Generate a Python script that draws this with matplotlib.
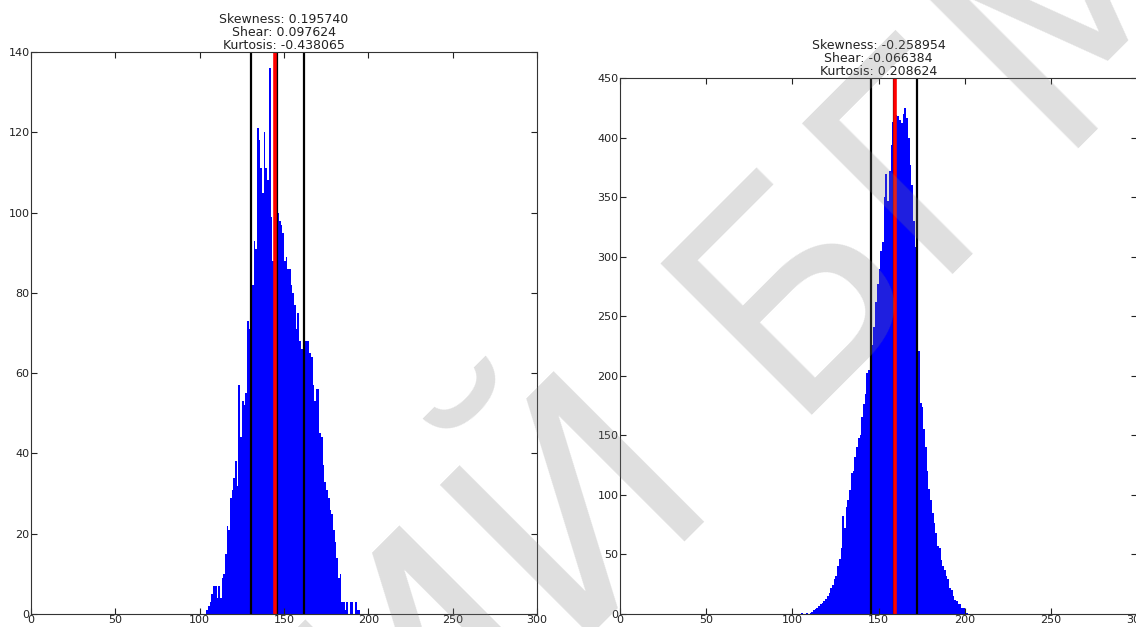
import matplotlib
matplotlib.use('Agg')
import matplotlib.pyplot as plt
import numpy as np

# left histogram: bin start and counts (bin width 1)
left_start = 103
left_counts = [0, 1, 2, 3, 5, 7, 7, 4, 7, 4,
               9, 10, 15, 22, 21, 29, 31, 34, 38, 32,
               57, 44, 53, 52, 55, 73, 71, 82, 82, 93,
               91, 121, 118, 111, 105, 120, 111, 108, 136, 99,
               88, 92, 113, 100, 98, 97, 95, 88, 89, 86,
               86, 82, 80, 77, 71, 75, 68, 66, 72, 68,
               68, 68, 65, 64, 57, 53, 56, 56, 45, 44,
               37, 33, 31, 29, 26, 25, 21, 18, 14, 9,
               10, 3, 3, 1, 3, 0, 3, 3, 0, 3,
               1, 1]
left_stats = "Skewness: 0.195740\nShear: 0.097624\nKurtosis: -0.438065"
left_mean = 144.9
left_median = 145.8
left_band = [130.2, 161.6]

# right histogram
right_start = 105
right_counts = [1, 0, 0, 1, 0, 1, 2, 3, 4, 5,
                7, 8, 9, 11, 13, 15, 18, 22, 24, 29,
                32, 40, 46, 55, 82, 72, 90, 96, 104, 118,
                120, 132, 140, 148, 150, 165, 176, 185, 202, 205,
                224, 226, 241, 262, 277, 290, 305, 312, 350, 369,
                347, 372, 394, 413, 435, 419, 418, 415, 412, 420,
                425, 416, 400, 377, 360, 330, 308, 305, 221, 177,
                174, 155, 140, 120, 105, 96, 85, 76, 68, 57,
                55, 45, 40, 37, 32, 29, 22, 20, 15, 12,
                11, 8, 8, 5, 5, 3, 1]
right_stats = "Skewness: -0.258954\nShear: -0.066384\nKurtosis: 0.208624"
right_mean = 159.6
right_median = 159.1
right_band = [145.4, 172.2]

W, H = 1136, 627
fig = plt.figure(figsize=(W / 100, H / 100), dpi=100)
fig.patch.set_facecolor('white')


def draw(rect, start, counts, ymax, ystep, stats, mean, median, band):
    ax = fig.add_axes(rect)
    edges = start + np.arange(len(counts))
    ax.bar(edges, counts, width=1.0, align='edge', color='blue', linewidth=0)
    for b in band:
        ax.axvline(b, color='black', lw=1.6)
    ax.axvline(median, color='black', lw=1.6)
    ax.axvline(mean, color='red', lw=2.6)
    ax.set_xlim(0, 300)
    ax.set_ylim(0, ymax)
    ax.set_xticks(np.arange(0, 301, 50))
    ax.set_yticks(np.arange(0, ymax + 1, ystep))
    ax.tick_params(direction='in', top=True, right=True, length=4,
                   labelsize=8, pad=1, colors='#222222')
    for s in ax.spines.values():
        s.set_color('#333333')
    ax.set_title(stats, fontsize=9, linespacing=1.0, pad=2, color='#222222')
    return ax


draw([31 / W, 1 - 614 / H, 506 / W, 562 / H],
     left_start, left_counts, 140, 20, left_stats, left_mean, left_median, left_band)
draw([620 / W, 1 - 614 / H, 517 / W, 536 / H],
     right_start, right_counts, 450, 50, right_stats, right_mean, right_median, right_band)

# watermark
wm = dict(rotation=45, rotation_mode='anchor', va='baseline', fontsize=210,
          color='#808080', alpha=0.25)
fig.text(783 / W, 1 - 415 / H, "БГМУ", ha='left', **wm)
fig.text(717 / W, 1 - 481 / H, "РЕПОЗИТОРИЙ", ha='right', **wm)

fig.savefig('out.png', dpi=100, facecolor='white')
